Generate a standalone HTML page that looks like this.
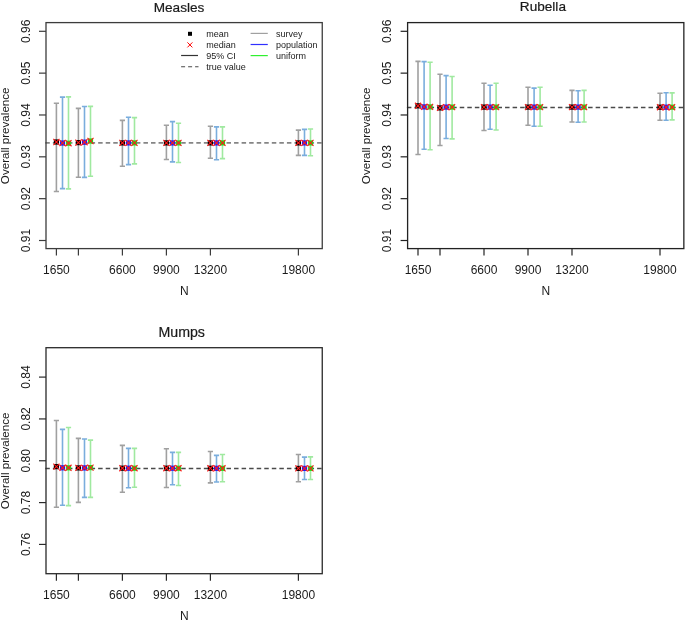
<!DOCTYPE html>
<html><head><meta charset="utf-8"><title>Overall prevalence</title>
<style>
html,body{margin:0;padding:0;background:#fff;}
body{width:685px;height:620px;overflow:hidden;}
svg{display:block;font-family:"Liberation Sans", sans-serif;will-change:transform;}
</style></head>
<body>
<svg width="685" height="620" viewBox="0 0 685 620">
<rect width="685" height="620" fill="#fff"/>
<text x="179" y="11.8" font-size="13.6" text-anchor="middle" fill="#1a1a1a" stroke="#1a1a1a" stroke-width="0.2">Measles</text>
<line x1="45.3" y1="142.9" x2="322.25" y2="142.9" stroke="#858585" stroke-width="1.8" stroke-dasharray="4.5 3.05"/>
<path d="M56.40 103.30V191.50M53.80 103.30H59.00M53.80 191.50H59.00" stroke="#a0a0a0" stroke-width="1.6" fill="none"/>
<path d="M62.50 97.10V188.60M59.90 97.10H65.10M59.90 188.60H65.10" stroke="#7aaddd" stroke-width="1.6" fill="none"/>
<path d="M68.50 96.90V188.90M65.90 96.90H71.10M65.90 188.90H71.10" stroke="#a0e9a0" stroke-width="1.6" fill="none"/>
<path d="M78.40 108.40V177.20M75.80 108.40H81.00M75.80 177.20H81.00" stroke="#a0a0a0" stroke-width="1.6" fill="none"/>
<path d="M84.50 106.50V177.40M81.90 106.50H87.10M81.90 177.40H87.10" stroke="#7aaddd" stroke-width="1.6" fill="none"/>
<path d="M90.50 106.40V176.30M87.90 106.40H93.10M87.90 176.30H93.10" stroke="#a0e9a0" stroke-width="1.6" fill="none"/>
<path d="M122.40 120.40V166.30M119.80 120.40H125.00M119.80 166.30H125.00" stroke="#a0a0a0" stroke-width="1.6" fill="none"/>
<path d="M128.50 117.30V164.60M125.90 117.30H131.10M125.90 164.60H131.10" stroke="#7aaddd" stroke-width="1.6" fill="none"/>
<path d="M134.50 117.60V163.90M131.90 117.60H137.10M131.90 163.90H137.10" stroke="#a0e9a0" stroke-width="1.6" fill="none"/>
<path d="M166.40 125.30V159.50M163.80 125.30H169.00M163.80 159.50H169.00" stroke="#a0a0a0" stroke-width="1.6" fill="none"/>
<path d="M172.50 121.60V161.90M169.90 121.60H175.10M169.90 161.90H175.10" stroke="#7aaddd" stroke-width="1.6" fill="none"/>
<path d="M178.50 123.20V162.50M175.90 123.20H181.10M175.90 162.50H181.10" stroke="#a0e9a0" stroke-width="1.6" fill="none"/>
<path d="M210.40 126.20V158.30M207.80 126.20H213.00M207.80 158.30H213.00" stroke="#a0a0a0" stroke-width="1.6" fill="none"/>
<path d="M216.50 126.90V159.70M213.90 126.90H219.10M213.90 159.70H219.10" stroke="#7aaddd" stroke-width="1.6" fill="none"/>
<path d="M222.50 126.90V158.60M219.90 126.90H225.10M219.90 158.60H225.10" stroke="#a0e9a0" stroke-width="1.6" fill="none"/>
<path d="M298.40 130.10V155.40M295.80 130.10H301.00M295.80 155.40H301.00" stroke="#a0a0a0" stroke-width="1.6" fill="none"/>
<path d="M304.50 129.40V155.40M301.90 129.40H307.10M301.90 155.40H307.10" stroke="#7aaddd" stroke-width="1.6" fill="none"/>
<path d="M310.50 129.00V155.80M307.90 129.00H313.10M307.90 155.80H313.10" stroke="#a0e9a0" stroke-width="1.6" fill="none"/>
<rect x="53.80" y="139.40" width="5.2" height="5.2" fill="#000000"/>
<path d="M53.35 138.95L59.45 145.05M53.35 145.05L59.45 138.95" stroke="#ff1a1a" stroke-width="1.1" fill="none"/>
<rect x="59.90" y="140.40" width="5.2" height="5.2" fill="#1a1aff"/>
<path d="M59.45 139.95L65.55 146.05M59.45 146.05L65.55 139.95" stroke="#ff1a1a" stroke-width="1.1" fill="none"/>
<rect x="65.90" y="140.60" width="5.2" height="5.2" fill="#19e619"/>
<path d="M65.45 140.15L71.55 146.25M65.45 146.25L71.55 140.15" stroke="#ff1a1a" stroke-width="1.1" fill="none"/>
<rect x="75.80" y="140.00" width="5.2" height="5.2" fill="#000000"/>
<path d="M75.35 139.55L81.45 145.65M75.35 145.65L81.45 139.55" stroke="#ff1a1a" stroke-width="1.1" fill="none"/>
<rect x="81.90" y="139.60" width="5.2" height="5.2" fill="#1a1aff"/>
<path d="M81.45 139.15L87.55 145.25M81.45 145.25L87.55 139.15" stroke="#ff1a1a" stroke-width="1.1" fill="none"/>
<rect x="87.90" y="138.40" width="5.2" height="5.2" fill="#19e619"/>
<path d="M87.45 137.95L93.55 144.05M87.45 144.05L93.55 137.95" stroke="#ff1a1a" stroke-width="1.1" fill="none"/>
<rect x="119.80" y="140.30" width="5.2" height="5.2" fill="#000000"/>
<path d="M119.35 139.85L125.45 145.95M119.35 145.95L125.45 139.85" stroke="#ff1a1a" stroke-width="1.1" fill="none"/>
<rect x="125.90" y="140.30" width="5.2" height="5.2" fill="#1a1aff"/>
<path d="M125.45 139.85L131.55 145.95M125.45 145.95L131.55 139.85" stroke="#ff1a1a" stroke-width="1.1" fill="none"/>
<rect x="131.90" y="140.30" width="5.2" height="5.2" fill="#19e619"/>
<path d="M131.45 139.85L137.55 145.95M131.45 145.95L137.55 139.85" stroke="#ff1a1a" stroke-width="1.1" fill="none"/>
<rect x="163.80" y="140.30" width="5.2" height="5.2" fill="#000000"/>
<path d="M163.35 139.85L169.45 145.95M163.35 145.95L169.45 139.85" stroke="#ff1a1a" stroke-width="1.1" fill="none"/>
<rect x="169.90" y="140.30" width="5.2" height="5.2" fill="#1a1aff"/>
<path d="M169.45 139.85L175.55 145.95M169.45 145.95L175.55 139.85" stroke="#ff1a1a" stroke-width="1.1" fill="none"/>
<rect x="175.90" y="140.30" width="5.2" height="5.2" fill="#19e619"/>
<path d="M175.45 139.85L181.55 145.95M175.45 145.95L181.55 139.85" stroke="#ff1a1a" stroke-width="1.1" fill="none"/>
<rect x="207.80" y="140.30" width="5.2" height="5.2" fill="#000000"/>
<path d="M207.35 139.85L213.45 145.95M207.35 145.95L213.45 139.85" stroke="#ff1a1a" stroke-width="1.1" fill="none"/>
<rect x="213.90" y="140.30" width="5.2" height="5.2" fill="#1a1aff"/>
<path d="M213.45 139.85L219.55 145.95M213.45 145.95L219.55 139.85" stroke="#ff1a1a" stroke-width="1.1" fill="none"/>
<rect x="219.90" y="140.30" width="5.2" height="5.2" fill="#19e619"/>
<path d="M219.45 139.85L225.55 145.95M219.45 145.95L225.55 139.85" stroke="#ff1a1a" stroke-width="1.1" fill="none"/>
<rect x="295.80" y="140.30" width="5.2" height="5.2" fill="#000000"/>
<path d="M295.35 139.85L301.45 145.95M295.35 145.95L301.45 139.85" stroke="#ff1a1a" stroke-width="1.1" fill="none"/>
<rect x="301.90" y="140.30" width="5.2" height="5.2" fill="#1a1aff"/>
<path d="M301.45 139.85L307.55 145.95M301.45 145.95L307.55 139.85" stroke="#ff1a1a" stroke-width="1.1" fill="none"/>
<rect x="307.90" y="140.30" width="5.2" height="5.2" fill="#19e619"/>
<path d="M307.45 139.85L313.55 145.95M307.45 145.95L313.55 139.85" stroke="#ff1a1a" stroke-width="1.1" fill="none"/>
<rect x="46" y="22.6" width="276.25" height="226.0" fill="none" stroke="#3c3c3c" stroke-width="1.3"/>
<line x1="39" y1="31.3" x2="46" y2="31.3" stroke="#3c3c3c" stroke-width="1.2"/>
<text transform="translate(29.5,31.3) rotate(-90)" font-size="12" text-anchor="middle" fill="#1a1a1a">0.96</text>
<line x1="39" y1="73.14" x2="46" y2="73.14" stroke="#3c3c3c" stroke-width="1.2"/>
<text transform="translate(29.5,73.14) rotate(-90)" font-size="12" text-anchor="middle" fill="#1a1a1a">0.95</text>
<line x1="39" y1="114.98" x2="46" y2="114.98" stroke="#3c3c3c" stroke-width="1.2"/>
<text transform="translate(29.5,114.98) rotate(-90)" font-size="12" text-anchor="middle" fill="#1a1a1a">0.94</text>
<line x1="39" y1="156.82000000000002" x2="46" y2="156.82000000000002" stroke="#3c3c3c" stroke-width="1.2"/>
<text transform="translate(29.5,156.82000000000002) rotate(-90)" font-size="12" text-anchor="middle" fill="#1a1a1a">0.93</text>
<line x1="39" y1="198.66000000000003" x2="46" y2="198.66000000000003" stroke="#3c3c3c" stroke-width="1.2"/>
<text transform="translate(29.5,198.66000000000003) rotate(-90)" font-size="12" text-anchor="middle" fill="#1a1a1a">0.92</text>
<line x1="39" y1="240.50000000000003" x2="46" y2="240.50000000000003" stroke="#3c3c3c" stroke-width="1.2"/>
<text transform="translate(29.5,240.50000000000003) rotate(-90)" font-size="12" text-anchor="middle" fill="#1a1a1a">0.91</text>
<line x1="56.4" y1="248.6" x2="56.4" y2="255.6" stroke="#3c3c3c" stroke-width="1.2"/>
<text x="56.4" y="273.6" font-size="12" text-anchor="middle" fill="#1a1a1a">1650</text>
<line x1="78.4" y1="248.6" x2="78.4" y2="255.6" stroke="#3c3c3c" stroke-width="1.2"/>
<line x1="122.4" y1="248.6" x2="122.4" y2="255.6" stroke="#3c3c3c" stroke-width="1.2"/>
<text x="122.4" y="273.6" font-size="12" text-anchor="middle" fill="#1a1a1a">6600</text>
<line x1="166.4" y1="248.6" x2="166.4" y2="255.6" stroke="#3c3c3c" stroke-width="1.2"/>
<text x="166.4" y="273.6" font-size="12" text-anchor="middle" fill="#1a1a1a">9900</text>
<line x1="210.4" y1="248.6" x2="210.4" y2="255.6" stroke="#3c3c3c" stroke-width="1.2"/>
<text x="210.4" y="273.6" font-size="12" text-anchor="middle" fill="#1a1a1a">13200</text>
<line x1="298.4" y1="248.6" x2="298.4" y2="255.6" stroke="#3c3c3c" stroke-width="1.2"/>
<text x="298.4" y="273.6" font-size="12" text-anchor="middle" fill="#1a1a1a">19800</text>
<text x="184.3" y="294.8" font-size="12" text-anchor="middle" fill="#1a1a1a">N</text>
<text transform="translate(8.7,135.8) rotate(-90)" font-size="11.6" text-anchor="middle" fill="#1a1a1a">Overall prevalence</text>
<rect x="188" y="31.8" width="4" height="4" fill="#000"/>
<path d="M187.4 42.4L192.4 47.4M187.4 47.4L192.4 42.4" stroke="#ff0000" stroke-width="1"/>
<line x1="181.1" y1="55.5" x2="198" y2="55.5" stroke="#333" stroke-width="1.2"/>
<line x1="181.1" y1="66.7" x2="198.5" y2="66.7" stroke="#4a4a4a" stroke-width="1.1" stroke-dasharray="4 3"/>
<text x="206.2" y="36.80" font-size="9" fill="#1a1a1a">mean</text>
<text x="206.2" y="47.75" font-size="9" fill="#1a1a1a">median</text>
<text x="206.2" y="58.70" font-size="9" fill="#1a1a1a">95% CI</text>
<text x="206.2" y="69.65" font-size="9" fill="#1a1a1a">true value</text>
<line x1="250.6" y1="33.40" x2="267.8" y2="33.40" stroke="#a0a0a0" stroke-width="1.2"/>
<text x="276" y="36.80" font-size="9" fill="#1a1a1a">survey</text>
<line x1="250.6" y1="44.50" x2="267.8" y2="44.50" stroke="#3030ff" stroke-width="1.2"/>
<text x="276" y="47.75" font-size="9" fill="#1a1a1a">population</text>
<line x1="250.6" y1="55.60" x2="267.8" y2="55.60" stroke="#30f030" stroke-width="1.2"/>
<text x="276" y="58.70" font-size="9" fill="#1a1a1a">uniform</text>
<text x="542.9" y="10.5" font-size="13.6" text-anchor="middle" fill="#1a1a1a" stroke="#1a1a1a" stroke-width="0.2">Rubella</text>
<line x1="406.90000000000003" y1="107.45" x2="683.85" y2="107.45" stroke="#4a4a4a" stroke-width="1.35" stroke-dasharray="4.5 3.05"/>
<path d="M418.00 61.35V154.50M415.40 61.35H420.60M415.40 154.50H420.60" stroke="#a0a0a0" stroke-width="1.6" fill="none"/>
<path d="M424.10 61.60V149.20M421.50 61.60H426.70M421.50 149.20H426.70" stroke="#7aaddd" stroke-width="1.6" fill="none"/>
<path d="M430.10 62.30V149.80M427.50 62.30H432.70M427.50 149.80H432.70" stroke="#a0e9a0" stroke-width="1.6" fill="none"/>
<path d="M440.00 74.30V145.50M437.40 74.30H442.60M437.40 145.50H442.60" stroke="#a0a0a0" stroke-width="1.6" fill="none"/>
<path d="M446.10 75.60V138.50M443.50 75.60H448.70M443.50 138.50H448.70" stroke="#7aaddd" stroke-width="1.6" fill="none"/>
<path d="M452.10 76.50V138.90M449.50 76.50H454.70M449.50 138.90H454.70" stroke="#a0e9a0" stroke-width="1.6" fill="none"/>
<path d="M484.00 83.20V130.50M481.40 83.20H486.60M481.40 130.50H486.60" stroke="#a0a0a0" stroke-width="1.6" fill="none"/>
<path d="M490.10 85.20V129.30M487.50 85.20H492.70M487.50 129.30H492.70" stroke="#7aaddd" stroke-width="1.6" fill="none"/>
<path d="M496.10 83.20V130.00M493.50 83.20H498.70M493.50 130.00H498.70" stroke="#a0e9a0" stroke-width="1.6" fill="none"/>
<path d="M528.00 87.30V125.30M525.40 87.30H530.60M525.40 125.30H530.60" stroke="#a0a0a0" stroke-width="1.6" fill="none"/>
<path d="M534.10 88.10V126.30M531.50 88.10H536.70M531.50 126.30H536.70" stroke="#7aaddd" stroke-width="1.6" fill="none"/>
<path d="M540.10 87.30V126.20M537.50 87.30H542.70M537.50 126.20H542.70" stroke="#a0e9a0" stroke-width="1.6" fill="none"/>
<path d="M572.00 90.40V122.00M569.40 90.40H574.60M569.40 122.00H574.60" stroke="#a0a0a0" stroke-width="1.6" fill="none"/>
<path d="M578.10 90.80V122.30M575.50 90.80H580.70M575.50 122.30H580.70" stroke="#7aaddd" stroke-width="1.6" fill="none"/>
<path d="M584.10 90.40V122.00M581.50 90.40H586.70M581.50 122.00H586.70" stroke="#a0e9a0" stroke-width="1.6" fill="none"/>
<path d="M660.00 93.30V120.30M657.40 93.30H662.60M657.40 120.30H662.60" stroke="#a0a0a0" stroke-width="1.6" fill="none"/>
<path d="M666.10 92.70V120.20M663.50 92.70H668.70M663.50 120.20H668.70" stroke="#7aaddd" stroke-width="1.6" fill="none"/>
<path d="M672.10 92.90V119.90M669.50 92.90H674.70M669.50 119.90H674.70" stroke="#a0e9a0" stroke-width="1.6" fill="none"/>
<rect x="415.40" y="103.20" width="5.2" height="5.2" fill="#000000"/>
<path d="M414.95 102.75L421.05 108.85M414.95 108.85L421.05 102.75" stroke="#ff1a1a" stroke-width="1.1" fill="none"/>
<rect x="421.50" y="104.30" width="5.2" height="5.2" fill="#1a1aff"/>
<path d="M421.05 103.85L427.15 109.95M421.05 109.95L427.15 103.85" stroke="#ff1a1a" stroke-width="1.1" fill="none"/>
<rect x="427.50" y="104.30" width="5.2" height="5.2" fill="#19e619"/>
<path d="M427.05 103.85L433.15 109.95M427.05 109.95L433.15 103.85" stroke="#ff1a1a" stroke-width="1.1" fill="none"/>
<rect x="437.40" y="105.30" width="5.2" height="5.2" fill="#000000"/>
<path d="M436.95 104.85L443.05 110.95M436.95 110.95L443.05 104.85" stroke="#ff1a1a" stroke-width="1.1" fill="none"/>
<rect x="443.50" y="104.50" width="5.2" height="5.2" fill="#1a1aff"/>
<path d="M443.05 104.05L449.15 110.15M443.05 110.15L449.15 104.05" stroke="#ff1a1a" stroke-width="1.1" fill="none"/>
<rect x="449.50" y="104.50" width="5.2" height="5.2" fill="#19e619"/>
<path d="M449.05 104.05L455.15 110.15M449.05 110.15L455.15 104.05" stroke="#ff1a1a" stroke-width="1.1" fill="none"/>
<rect x="481.40" y="104.50" width="5.2" height="5.2" fill="#000000"/>
<path d="M480.95 104.05L487.05 110.15M480.95 110.15L487.05 104.05" stroke="#ff1a1a" stroke-width="1.1" fill="none"/>
<rect x="487.50" y="104.50" width="5.2" height="5.2" fill="#1a1aff"/>
<path d="M487.05 104.05L493.15 110.15M487.05 110.15L493.15 104.05" stroke="#ff1a1a" stroke-width="1.1" fill="none"/>
<rect x="493.50" y="104.50" width="5.2" height="5.2" fill="#19e619"/>
<path d="M493.05 104.05L499.15 110.15M493.05 110.15L499.15 104.05" stroke="#ff1a1a" stroke-width="1.1" fill="none"/>
<rect x="525.40" y="104.50" width="5.2" height="5.2" fill="#000000"/>
<path d="M524.95 104.05L531.05 110.15M524.95 110.15L531.05 104.05" stroke="#ff1a1a" stroke-width="1.1" fill="none"/>
<rect x="531.50" y="104.50" width="5.2" height="5.2" fill="#1a1aff"/>
<path d="M531.05 104.05L537.15 110.15M531.05 110.15L537.15 104.05" stroke="#ff1a1a" stroke-width="1.1" fill="none"/>
<rect x="537.50" y="104.50" width="5.2" height="5.2" fill="#19e619"/>
<path d="M537.05 104.05L543.15 110.15M537.05 110.15L543.15 104.05" stroke="#ff1a1a" stroke-width="1.1" fill="none"/>
<rect x="569.40" y="104.50" width="5.2" height="5.2" fill="#000000"/>
<path d="M568.95 104.05L575.05 110.15M568.95 110.15L575.05 104.05" stroke="#ff1a1a" stroke-width="1.1" fill="none"/>
<rect x="575.50" y="104.50" width="5.2" height="5.2" fill="#1a1aff"/>
<path d="M575.05 104.05L581.15 110.15M575.05 110.15L581.15 104.05" stroke="#ff1a1a" stroke-width="1.1" fill="none"/>
<rect x="581.50" y="104.50" width="5.2" height="5.2" fill="#19e619"/>
<path d="M581.05 104.05L587.15 110.15M581.05 110.15L587.15 104.05" stroke="#ff1a1a" stroke-width="1.1" fill="none"/>
<rect x="657.40" y="104.60" width="5.2" height="5.2" fill="#000000"/>
<path d="M656.95 104.15L663.05 110.25M656.95 110.25L663.05 104.15" stroke="#ff1a1a" stroke-width="1.1" fill="none"/>
<rect x="663.50" y="104.60" width="5.2" height="5.2" fill="#1a1aff"/>
<path d="M663.05 104.15L669.15 110.25M663.05 110.25L669.15 104.15" stroke="#ff1a1a" stroke-width="1.1" fill="none"/>
<rect x="669.50" y="104.60" width="5.2" height="5.2" fill="#19e619"/>
<path d="M669.05 104.15L675.15 110.25M669.05 110.25L675.15 104.15" stroke="#ff1a1a" stroke-width="1.1" fill="none"/>
<rect x="407.6" y="22.6" width="276.25" height="226.0" fill="none" stroke="#222222" stroke-width="1.3"/>
<line x1="400.6" y1="31.3" x2="407.6" y2="31.3" stroke="#222222" stroke-width="1.2"/>
<text transform="translate(391.1,31.3) rotate(-90)" font-size="12" text-anchor="middle" fill="#1a1a1a">0.96</text>
<line x1="400.6" y1="73.14" x2="407.6" y2="73.14" stroke="#222222" stroke-width="1.2"/>
<text transform="translate(391.1,73.14) rotate(-90)" font-size="12" text-anchor="middle" fill="#1a1a1a">0.95</text>
<line x1="400.6" y1="114.98" x2="407.6" y2="114.98" stroke="#222222" stroke-width="1.2"/>
<text transform="translate(391.1,114.98) rotate(-90)" font-size="12" text-anchor="middle" fill="#1a1a1a">0.94</text>
<line x1="400.6" y1="156.82000000000002" x2="407.6" y2="156.82000000000002" stroke="#222222" stroke-width="1.2"/>
<text transform="translate(391.1,156.82000000000002) rotate(-90)" font-size="12" text-anchor="middle" fill="#1a1a1a">0.93</text>
<line x1="400.6" y1="198.66000000000003" x2="407.6" y2="198.66000000000003" stroke="#222222" stroke-width="1.2"/>
<text transform="translate(391.1,198.66000000000003) rotate(-90)" font-size="12" text-anchor="middle" fill="#1a1a1a">0.92</text>
<line x1="400.6" y1="240.50000000000003" x2="407.6" y2="240.50000000000003" stroke="#222222" stroke-width="1.2"/>
<text transform="translate(391.1,240.50000000000003) rotate(-90)" font-size="12" text-anchor="middle" fill="#1a1a1a">0.91</text>
<line x1="418.0" y1="248.6" x2="418.0" y2="255.6" stroke="#222222" stroke-width="1.2"/>
<text x="418.0" y="273.6" font-size="12" text-anchor="middle" fill="#1a1a1a">1650</text>
<line x1="440.0" y1="248.6" x2="440.0" y2="255.6" stroke="#222222" stroke-width="1.2"/>
<line x1="484.0" y1="248.6" x2="484.0" y2="255.6" stroke="#222222" stroke-width="1.2"/>
<text x="484.0" y="273.6" font-size="12" text-anchor="middle" fill="#1a1a1a">6600</text>
<line x1="528.0" y1="248.6" x2="528.0" y2="255.6" stroke="#222222" stroke-width="1.2"/>
<text x="528.0" y="273.6" font-size="12" text-anchor="middle" fill="#1a1a1a">9900</text>
<line x1="572.0" y1="248.6" x2="572.0" y2="255.6" stroke="#222222" stroke-width="1.2"/>
<text x="572.0" y="273.6" font-size="12" text-anchor="middle" fill="#1a1a1a">13200</text>
<line x1="660.0" y1="248.6" x2="660.0" y2="255.6" stroke="#222222" stroke-width="1.2"/>
<text x="660.0" y="273.6" font-size="12" text-anchor="middle" fill="#1a1a1a">19800</text>
<text x="545.9000000000001" y="294.8" font-size="12" text-anchor="middle" fill="#1a1a1a">N</text>
<text transform="translate(370.3,135.8) rotate(-90)" font-size="11.6" text-anchor="middle" fill="#1a1a1a">Overall prevalence</text>
<text x="181.7" y="337.1" font-size="14.2" text-anchor="middle" fill="#1a1a1a" stroke="#1a1a1a" stroke-width="0.2">Mumps</text>
<line x1="45.3" y1="468.45" x2="322.25" y2="468.45" stroke="#4a4a4a" stroke-width="1.35" stroke-dasharray="4.5 3.05"/>
<path d="M56.40 420.50V507.30M53.80 420.50H59.00M53.80 507.30H59.00" stroke="#a0a0a0" stroke-width="1.6" fill="none"/>
<path d="M62.50 429.40V505.30M59.90 429.40H65.10M59.90 505.30H65.10" stroke="#7aaddd" stroke-width="1.6" fill="none"/>
<path d="M68.50 427.50V505.60M65.90 427.50H71.10M65.90 505.60H71.10" stroke="#a0e9a0" stroke-width="1.6" fill="none"/>
<path d="M78.40 438.40V502.40M75.80 438.40H81.00M75.80 502.40H81.00" stroke="#a0a0a0" stroke-width="1.6" fill="none"/>
<path d="M84.50 439.00V497.40M81.90 439.00H87.10M81.90 497.40H87.10" stroke="#7aaddd" stroke-width="1.6" fill="none"/>
<path d="M90.50 440.10V497.40M87.90 440.10H93.10M87.90 497.40H93.10" stroke="#a0e9a0" stroke-width="1.6" fill="none"/>
<path d="M122.40 445.40V492.20M119.80 445.40H125.00M119.80 492.20H125.00" stroke="#a0a0a0" stroke-width="1.6" fill="none"/>
<path d="M128.50 448.40V487.80M125.90 448.40H131.10M125.90 487.80H131.10" stroke="#7aaddd" stroke-width="1.6" fill="none"/>
<path d="M134.50 448.40V487.30M131.90 448.40H137.10M131.90 487.30H137.10" stroke="#a0e9a0" stroke-width="1.6" fill="none"/>
<path d="M166.40 448.70V487.50M163.80 448.70H169.00M163.80 487.50H169.00" stroke="#a0a0a0" stroke-width="1.6" fill="none"/>
<path d="M172.50 452.40V484.80M169.90 452.40H175.10M169.90 484.80H175.10" stroke="#7aaddd" stroke-width="1.6" fill="none"/>
<path d="M178.50 452.40V485.50M175.90 452.40H181.10M175.90 485.50H181.10" stroke="#a0e9a0" stroke-width="1.6" fill="none"/>
<path d="M210.40 451.50V482.90M207.80 451.50H213.00M207.80 482.90H213.00" stroke="#a0a0a0" stroke-width="1.6" fill="none"/>
<path d="M216.50 455.40V482.00M213.90 455.40H219.10M213.90 482.00H219.10" stroke="#7aaddd" stroke-width="1.6" fill="none"/>
<path d="M222.50 454.50V481.70M219.90 454.50H225.10M219.90 481.70H225.10" stroke="#a0e9a0" stroke-width="1.6" fill="none"/>
<path d="M298.40 454.50V481.80M295.80 454.50H301.00M295.80 481.80H301.00" stroke="#a0a0a0" stroke-width="1.6" fill="none"/>
<path d="M304.50 457.10V479.50M301.90 457.10H307.10M301.90 479.50H307.10" stroke="#7aaddd" stroke-width="1.6" fill="none"/>
<path d="M310.50 456.90V479.50M307.90 456.90H313.10M307.90 479.50H313.10" stroke="#a0e9a0" stroke-width="1.6" fill="none"/>
<rect x="53.80" y="464.00" width="5.2" height="5.2" fill="#000000"/>
<path d="M53.35 463.55L59.45 469.65M53.35 469.65L59.45 463.55" stroke="#ff1a1a" stroke-width="1.1" fill="none"/>
<rect x="59.90" y="465.20" width="5.2" height="5.2" fill="#1a1aff"/>
<path d="M59.45 464.75L65.55 470.85M59.45 470.85L65.55 464.75" stroke="#ff1a1a" stroke-width="1.1" fill="none"/>
<rect x="65.90" y="465.20" width="5.2" height="5.2" fill="#19e619"/>
<path d="M65.45 464.75L71.55 470.85M65.45 470.85L71.55 464.75" stroke="#ff1a1a" stroke-width="1.1" fill="none"/>
<rect x="75.80" y="465.30" width="5.2" height="5.2" fill="#000000"/>
<path d="M75.35 464.85L81.45 470.95M75.35 470.95L81.45 464.85" stroke="#ff1a1a" stroke-width="1.1" fill="none"/>
<rect x="81.90" y="465.30" width="5.2" height="5.2" fill="#1a1aff"/>
<path d="M81.45 464.85L87.55 470.95M81.45 470.95L87.55 464.85" stroke="#ff1a1a" stroke-width="1.1" fill="none"/>
<rect x="87.90" y="465.00" width="5.2" height="5.2" fill="#19e619"/>
<path d="M87.45 464.55L93.55 470.65M87.45 470.65L93.55 464.55" stroke="#ff1a1a" stroke-width="1.1" fill="none"/>
<rect x="119.80" y="465.60" width="5.2" height="5.2" fill="#000000"/>
<path d="M119.35 465.15L125.45 471.25M119.35 471.25L125.45 465.15" stroke="#ff1a1a" stroke-width="1.1" fill="none"/>
<rect x="125.90" y="465.60" width="5.2" height="5.2" fill="#1a1aff"/>
<path d="M125.45 465.15L131.55 471.25M125.45 471.25L131.55 465.15" stroke="#ff1a1a" stroke-width="1.1" fill="none"/>
<rect x="131.90" y="465.60" width="5.2" height="5.2" fill="#19e619"/>
<path d="M131.45 465.15L137.55 471.25M131.45 471.25L137.55 465.15" stroke="#ff1a1a" stroke-width="1.1" fill="none"/>
<rect x="163.80" y="465.60" width="5.2" height="5.2" fill="#000000"/>
<path d="M163.35 465.15L169.45 471.25M163.35 471.25L169.45 465.15" stroke="#ff1a1a" stroke-width="1.1" fill="none"/>
<rect x="169.90" y="465.60" width="5.2" height="5.2" fill="#1a1aff"/>
<path d="M169.45 465.15L175.55 471.25M169.45 471.25L175.55 465.15" stroke="#ff1a1a" stroke-width="1.1" fill="none"/>
<rect x="175.90" y="465.60" width="5.2" height="5.2" fill="#19e619"/>
<path d="M175.45 465.15L181.55 471.25M175.45 471.25L181.55 465.15" stroke="#ff1a1a" stroke-width="1.1" fill="none"/>
<rect x="207.80" y="465.70" width="5.2" height="5.2" fill="#000000"/>
<path d="M207.35 465.25L213.45 471.35M207.35 471.35L213.45 465.25" stroke="#ff1a1a" stroke-width="1.1" fill="none"/>
<rect x="213.90" y="465.70" width="5.2" height="5.2" fill="#1a1aff"/>
<path d="M213.45 465.25L219.55 471.35M213.45 471.35L219.55 465.25" stroke="#ff1a1a" stroke-width="1.1" fill="none"/>
<rect x="219.90" y="465.70" width="5.2" height="5.2" fill="#19e619"/>
<path d="M219.45 465.25L225.55 471.35M219.45 471.35L225.55 465.25" stroke="#ff1a1a" stroke-width="1.1" fill="none"/>
<rect x="295.80" y="465.80" width="5.2" height="5.2" fill="#000000"/>
<path d="M295.35 465.35L301.45 471.45M295.35 471.45L301.45 465.35" stroke="#ff1a1a" stroke-width="1.1" fill="none"/>
<rect x="301.90" y="465.80" width="5.2" height="5.2" fill="#1a1aff"/>
<path d="M301.45 465.35L307.55 471.45M301.45 471.45L307.55 465.35" stroke="#ff1a1a" stroke-width="1.1" fill="none"/>
<rect x="307.90" y="465.80" width="5.2" height="5.2" fill="#19e619"/>
<path d="M307.45 465.35L313.55 471.45M307.45 471.45L313.55 465.35" stroke="#ff1a1a" stroke-width="1.1" fill="none"/>
<rect x="46" y="347.70000000000005" width="276.25" height="226.0" fill="none" stroke="#2a2a2a" stroke-width="1.3"/>
<line x1="39" y1="377.1" x2="46" y2="377.1" stroke="#2a2a2a" stroke-width="1.2"/>
<text transform="translate(29.5,377.1) rotate(-90)" font-size="12" text-anchor="middle" fill="#1a1a1a">0.84</text>
<line x1="39" y1="418.93" x2="46" y2="418.93" stroke="#2a2a2a" stroke-width="1.2"/>
<text transform="translate(29.5,418.93) rotate(-90)" font-size="12" text-anchor="middle" fill="#1a1a1a">0.82</text>
<line x1="39" y1="460.76" x2="46" y2="460.76" stroke="#2a2a2a" stroke-width="1.2"/>
<text transform="translate(29.5,460.76) rotate(-90)" font-size="12" text-anchor="middle" fill="#1a1a1a">0.80</text>
<line x1="39" y1="502.59000000000003" x2="46" y2="502.59000000000003" stroke="#2a2a2a" stroke-width="1.2"/>
<text transform="translate(29.5,502.59000000000003) rotate(-90)" font-size="12" text-anchor="middle" fill="#1a1a1a">0.78</text>
<line x1="39" y1="544.4200000000001" x2="46" y2="544.4200000000001" stroke="#2a2a2a" stroke-width="1.2"/>
<text transform="translate(29.5,544.4200000000001) rotate(-90)" font-size="12" text-anchor="middle" fill="#1a1a1a">0.76</text>
<line x1="56.4" y1="573.7" x2="56.4" y2="580.7" stroke="#2a2a2a" stroke-width="1.2"/>
<text x="56.4" y="598.7" font-size="12" text-anchor="middle" fill="#1a1a1a">1650</text>
<line x1="78.4" y1="573.7" x2="78.4" y2="580.7" stroke="#2a2a2a" stroke-width="1.2"/>
<line x1="122.4" y1="573.7" x2="122.4" y2="580.7" stroke="#2a2a2a" stroke-width="1.2"/>
<text x="122.4" y="598.7" font-size="12" text-anchor="middle" fill="#1a1a1a">6600</text>
<line x1="166.4" y1="573.7" x2="166.4" y2="580.7" stroke="#2a2a2a" stroke-width="1.2"/>
<text x="166.4" y="598.7" font-size="12" text-anchor="middle" fill="#1a1a1a">9900</text>
<line x1="210.4" y1="573.7" x2="210.4" y2="580.7" stroke="#2a2a2a" stroke-width="1.2"/>
<text x="210.4" y="598.7" font-size="12" text-anchor="middle" fill="#1a1a1a">13200</text>
<line x1="298.4" y1="573.7" x2="298.4" y2="580.7" stroke="#2a2a2a" stroke-width="1.2"/>
<text x="298.4" y="598.7" font-size="12" text-anchor="middle" fill="#1a1a1a">19800</text>
<text x="184.3" y="619.9000000000001" font-size="12" text-anchor="middle" fill="#1a1a1a">N</text>
<text transform="translate(8.7,460.90000000000003) rotate(-90)" font-size="11.6" text-anchor="middle" fill="#1a1a1a">Overall prevalence</text>
</svg>
</body></html>
